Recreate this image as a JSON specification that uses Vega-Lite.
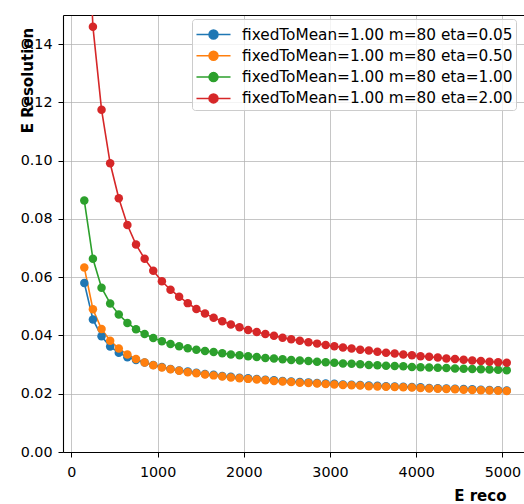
{
  "$schema": "https://vega.github.io/schema/vega-lite/v6.json",
  "width": 461,
  "height": 437,
  "autosize": {"type": "none"},
  "padding": {"left": 63, "top": 15, "right": 0, "bottom": 52},
  "background": "white",
  "config": {
    "font": "DejaVu Sans",
    "view": {"stroke": null},
    "axis": {
      "labelFont": "DejaVu Sans", "labelFontSize": 14.3, "labelColor": "#000",
      "titleFont": "DejaVu Sans", "titleFontSize": 15, "titleFontWeight": "bold", "titleColor": "#000",
      "domainColor": "#000", "domainWidth": 1.1, "tickColor": "#000", "tickSize": 5, "tickWidth": 1,
      "gridColor": "#b0b0b0", "gridWidth": 0.9, "gridOpacity": 0.8
    },
    "legend": {"labelFont": "DejaVu Sans", "labelFontSize": 15.3, "labelColor": "#000", "labelLimit": 400}
  },
  "data": {"values": [
    {"E":150,"a":0.0580,"b":0.0633,"c":0.0863,"d":0.21},
    {"E":250,"a":0.0455,"b":0.0490,"c":0.0663,"d":0.1460},
    {"E":350,"a":0.0397,"b":0.0422,"c":0.0564,"d":0.1175},
    {"E":450,"a":0.0362,"b":0.0382,"c":0.0510,"d":0.0991},
    {"E":550,"a":0.0341,"b":0.0355,"c":0.0472,"d":0.0871},
    {"E":650,"a":0.0325,"b":0.0335,"c":0.0443,"d":0.0779},
    {"E":750,"a":0.0316,"b":0.0319,"c":0.0421,"d":0.0712},
    {"E":850,"a":0.0307,"b":0.0307,"c":0.0405,"d":0.0663},
    {"E":950,"a":0.0299,"b":0.0298,"c":0.0391,"d":0.0622},
    {"E":1050,"a":0.0292,"b":0.0290,"c":0.0380,"d":0.0586},
    {"E":1150,"a":0.0285,"b":0.0284,"c":0.0371,"d":0.0557},
    {"E":1250,"a":0.0280,"b":0.0279,"c":0.0363,"d":0.0533},
    {"E":1350,"a":0.0276,"b":0.0274,"c":0.0356,"d":0.0511},
    {"E":1450,"a":0.0272,"b":0.0270,"c":0.0351,"d":0.0491},
    {"E":1550,"a":0.0268,"b":0.0266,"c":0.0347,"d":0.0475},
    {"E":1650,"a":0.0265,"b":0.0263,"c":0.0343,"d":0.0461},
    {"E":1750,"a":0.0261,"b":0.0259,"c":0.0339,"d":0.0449},
    {"E":1850,"a":0.0258,"b":0.0256,"c":0.0335,"d":0.0438},
    {"E":1950,"a":0.0255,"b":0.0253,"c":0.0332,"d":0.0428},
    {"E":2050,"a":0.0253,"b":0.0251,"c":0.0329,"d":0.0419},
    {"E":2150,"a":0.0251,"b":0.0249,"c":0.0326,"d":0.0412},
    {"E":2250,"a":0.0248,"b":0.0246,"c":0.0323,"d":0.0405},
    {"E":2350,"a":0.0246,"b":0.0244,"c":0.0321,"d":0.0399},
    {"E":2450,"a":0.0244,"b":0.0242,"c":0.0318,"d":0.0392},
    {"E":2550,"a":0.0242,"b":0.0240,"c":0.0316,"d":0.0387},
    {"E":2650,"a":0.0240,"b":0.0238,"c":0.0314,"d":0.0382},
    {"E":2750,"a":0.0239,"b":0.0237,"c":0.0312,"d":0.0377},
    {"E":2850,"a":0.0237,"b":0.0235,"c":0.0310,"d":0.0372},
    {"E":2950,"a":0.0235,"b":0.0233,"c":0.0308,"d":0.0367},
    {"E":3050,"a":0.0234,"b":0.0232,"c":0.0306,"d":0.0363},
    {"E":3150,"a":0.0232,"b":0.0230,"c":0.0304,"d":0.0359},
    {"E":3250,"a":0.0231,"b":0.0229,"c":0.0303,"d":0.0355},
    {"E":3350,"a":0.0230,"b":0.0228,"c":0.0301,"d":0.0351},
    {"E":3450,"a":0.0228,"b":0.0226,"c":0.0299,"d":0.0348},
    {"E":3550,"a":0.0227,"b":0.0225,"c":0.0298,"d":0.0344},
    {"E":3650,"a":0.0226,"b":0.0224,"c":0.0296,"d":0.0341},
    {"E":3750,"a":0.0225,"b":0.0223,"c":0.0295,"d":0.0338},
    {"E":3850,"a":0.0224,"b":0.0222,"c":0.0294,"d":0.0335},
    {"E":3950,"a":0.0223,"b":0.0221,"c":0.0292,"d":0.0332},
    {"E":4050,"a":0.0222,"b":0.0220,"c":0.0291,"d":0.0329},
    {"E":4150,"a":0.0220,"b":0.0218,"c":0.0290,"d":0.0327},
    {"E":4250,"a":0.0219,"b":0.0217,"c":0.0289,"d":0.0324},
    {"E":4350,"a":0.0218,"b":0.0216,"c":0.0288,"d":0.0321},
    {"E":4450,"a":0.0217,"b":0.0215,"c":0.0287,"d":0.0319},
    {"E":4550,"a":0.0216,"b":0.0214,"c":0.0286,"d":0.0317},
    {"E":4650,"a":0.0215,"b":0.0213,"c":0.0285,"d":0.0314},
    {"E":4750,"a":0.0214,"b":0.0212,"c":0.0284,"d":0.0312},
    {"E":4850,"a":0.0213,"b":0.0211,"c":0.0283,"d":0.0310},
    {"E":4950,"a":0.0212,"b":0.0210,"c":0.0282,"d":0.0308},
    {"E":5050,"a":0.0211,"b":0.0209,"c":0.0281,"d":0.0306}
  ]},
  "transform": [{"fold": ["a", "b", "c", "d"], "as": ["s", "r"]}],
  "layer": [
    {
      "mark": {"type": "line", "strokeWidth": 1.6, "clip": true},
      "encoding": {
        "x": {"field": "E", "type": "quantitative",
          "scale": {"domain": [-97, 5250], "nice": false, "zero": false},
          "axis": {"values": [0, 1000, 2000, 3000, 4000, 5000], "format": "d", "title": "E reco",
            "titleAlign": "right", "titleX": 443, "titleY": 48, "titleBaseline": "alphabetic",
            "labelPadding": 8, "grid": true}},
        "y": {"field": "r", "type": "quantitative",
          "scale": {"domain": [0, 0.15], "nice": false},
          "axis": {"values": [0, 0.02, 0.04, 0.06, 0.08, 0.1, 0.12, 0.14], "format": ".2f", "title": "E Resolution",
            "titleAngle": -90, "titleX": -31, "titleY": 65, "titleAlign": "center", "titleBaseline": "alphabetic",
            "labelPadding": 6, "grid": true}},
        "color": {"field": "s", "type": "nominal",
          "scale": {"domain": ["a", "b", "c", "d"], "range": ["#1f77b4", "#ff7f0e", "#2ca02c", "#d62728"]},
          "legend": {
            "title": null, "orient": "none", "legendX": 129, "legendY": 4,
            "padding": 3, "rowPadding": 0.3,
            "fillColor": "rgba(255,255,255,0.8)", "strokeColor": "#cccccc", "cornerRadius": 3,
            "symbolType": "M-1.48,0L1.48,0M0.39,0A0.39,0.39,0,1,1,-0.39,0A0.39,0.39,0,1,1,0.39,0Z",
            "symbolSize": 529, "symbolStrokeWidth": 1.5, "symbolOffset": 6, "labelOffset": 16,
            "labelExpr": "datum.value == 'a' ? 'fixedToMean=1.00 m=80 eta=0.05' : datum.value == 'b' ? 'fixedToMean=1.00 m=80 eta=0.50' : datum.value == 'c' ? 'fixedToMean=1.00 m=80 eta=1.00' : 'fixedToMean=1.00 m=80 eta=2.00'",
            "encode": {"symbols": {"update": {
              "fill": {"scale": "color", "field": "value"},
              "stroke": {"scale": "color", "field": "value"},
              "strokeWidth": {"value": 1.5},
              "opacity": {"value": 1}
            }}}
          }}
      }
    },
    {
      "mark": {"type": "point", "filled": true, "size": 72, "opacity": 1, "clip": true},
      "encoding": {
        "x": {"field": "E", "type": "quantitative",
          "axis": {"orient": "top", "labels": false, "ticks": false, "grid": false, "title": null, "domain": true}},
        "y": {"field": "r", "type": "quantitative"},
        "color": {"field": "s", "type": "nominal"}
      }
    }
  ],
  "resolve": {"axis": {"x": "independent"}}
}
